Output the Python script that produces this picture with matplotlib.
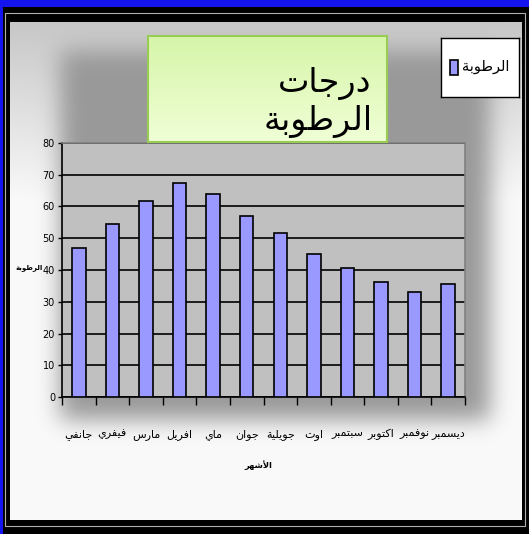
import math
import numpy as np
import matplotlib
matplotlib.use("Agg")
import matplotlib.pyplot as plt
from matplotlib.patches import Rectangle

months = ["جانفي", "فيفري", "مارس", "افريل", "ماي", "جوان",
          "جويلية", "اوت", "سبتمبر", "اكتوبر", "نوفمبر", "ديسمبر"]
humidity = [47, 54.5, 61.7, 67.3, 64, 57, 51.8, 45, 40.7, 36.2, 33.1, 35.5]
yticks = [0, 10, 20, 30, 40, 50, 60, 70, 80]
title_lines = ["درجات", "الرطوبة"]
series_name = "الرطوبة"
xlabel = "الأشهر"
ylabel = "الرطوبة"

# matplotlib has no arabic shaping, so pick presentation forms by hand
FORMS = {
    'ا': (0xFE8D, 0xFE8E, None, None), 'أ': (0xFE83, 0xFE84, None, None),
    'ب': (0xFE8F, 0xFE90, 0xFE91, 0xFE92), 'ة': (0xFE93, 0xFE94, None, None),
    'ت': (0xFE95, 0xFE96, 0xFE97, 0xFE98), 'ج': (0xFE9D, 0xFE9E, 0xFE9F, 0xFEA0),
    'د': (0xFEA9, 0xFEAA, None, None), 'ر': (0xFEAD, 0xFEAE, None, None),
    'س': (0xFEB1, 0xFEB2, 0xFEB3, 0xFEB4), 'ش': (0xFEB5, 0xFEB6, 0xFEB7, 0xFEB8),
    'ط': (0xFEC1, 0xFEC2, 0xFEC3, 0xFEC4), 'ف': (0xFED1, 0xFED2, 0xFED3, 0xFED4),
    'ك': (0xFED9, 0xFEDA, 0xFEDB, 0xFEDC), 'ل': (0xFEDD, 0xFEDE, 0xFEDF, 0xFEE0),
    'م': (0xFEE1, 0xFEE2, 0xFEE3, 0xFEE4), 'ن': (0xFEE5, 0xFEE6, 0xFEE7, 0xFEE8),
    'ه': (0xFEE9, 0xFEEA, 0xFEEB, 0xFEEC), 'و': (0xFEED, 0xFEEE, None, None),
    'ي': (0xFEF1, 0xFEF2, 0xFEF3, 0xFEF4),
}
LAM_ALEF = {'ا': (0xFEFB, 0xFEFC), 'أ': (0xFEF7, 0xFEF8)}


def shape_word(word):
    units = []
    i = 0
    while i < len(word):
        if word[i] == 'ل' and i + 1 < len(word) and word[i + 1] in LAM_ALEF:
            units.append(('LA', word[i + 1]))
            i += 2
        else:
            units.append((word[i], None))
            i += 1
    out = []
    for k, (c, extra) in enumerate(units):
        prev = units[k - 1][0] if k > 0 else None
        nxt = units[k + 1][0] if k + 1 < len(units) else None
        joins_prev = prev in FORMS and FORMS[prev][2] is not None
        if c == 'LA':
            iso, fin = LAM_ALEF[extra]
            out.append(chr(fin if joins_prev else iso))
            continue
        if c not in FORMS:
            out.append(c)
            continue
        iso, fin, ini, med = FORMS[c]
        joins_next = ini is not None and (nxt == 'LA' or nxt in FORMS)
        if joins_prev and joins_next:
            ch = med
        elif joins_prev:
            ch = fin
        elif joins_next:
            ch = ini
        else:
            ch = iso
        out.append(chr(ch))
    return ''.join(reversed(out))


def ar(text):
    return ' '.join(shape_word(w) for w in reversed(text.split()))


W, H = 529, 534
fig = plt.figure(figsize=(W / 100, H / 100), dpi=100)
fig.patch.set_facecolor('black')

# background with soft shadow behind the plot
bg = fig.add_axes([10 / W, 14 / H, 512 / W, 498 / H])
bg.set_axis_off()
xs = np.arange(10, 522) + 0.5
ys = np.arange(22, 520) + 0.5
erf = np.vectorize(math.erf)


def soft(v, a, b, s):
    return 0.5 * (erf((v - a) / s) - erf((v - b) / s))


shadow = soft(ys, 50, 420, 16)[:, None] * soft(xs, 60, 490, 16)[None, :]
top_fade = np.clip(1 - (ys - 22) / 180, 0, 1)[:, None] * 0.2
img = 0.98 - 0.38 * shadow - top_fade * (1 - shadow)
bg.imshow(np.dstack([img] * 3), extent=[0, 1, 0, 1], aspect='auto')

# frame lines
fig.patches.append(Rectangle((0, 1 - 7 / H), 1, 7 / H, transform=fig.transFigure,
                             facecolor='#1414f0', edgecolor='none'))
fig.patches.append(Rectangle((0, 0), 3 / W, 1, transform=fig.transFigure,
                             facecolor='#1414f0', edgecolor='none'))
fig.patches.append(Rectangle((5 / W, 8 / H), 520 / W, 513 / H, transform=fig.transFigure,
                             facecolor='none', edgecolor='#b0b0b0', linewidth=0.8))

# main plot
ax = fig.add_axes([62 / W, 137 / H, 403 / W, 254 / H])
ax.set_facecolor('#c0c0c0')
x = np.arange(len(months))
ax.bar(x, humidity, width=0.4, color='#9999ff', edgecolor='black', linewidth=1.2, zorder=3)
ax.set_xlim(-0.5, len(months) - 0.5)
ax.set_ylim(0, 80)
ax.set_yticks(yticks)
ax.yaxis.grid(True, color='black', linewidth=1.2, zorder=1)
ax.set_axisbelow(True)
ax.set_xticks(x)
ax.set_xticklabels([ar(m) for m in months], fontsize=8, family=['DejaVu Sans Condensed'])
ax.set_xticks(np.arange(len(months) + 1) - 0.5, minor=True)
ax.tick_params(axis='x', which='major', length=0, pad=23)
ax.tick_params(axis='x', which='minor', length=6, width=1, color='black')
ax.tick_params(axis='y', length=3, width=1, pad=2, labelsize=7)
for lab in ax.get_yticklabels():
    lab.set_family(['Liberation Sans Narrow', 'DejaVu Sans Condensed'])
for s in ['left', 'bottom']:
    ax.spines[s].set_color('black')
    ax.spines[s].set_linewidth(1.2)
for s in ['top', 'right']:
    ax.spines[s].set_color('#808080')
    ax.spines[s].set_linewidth(1.2)

fig.text(43 / W, 1 - 268 / H, ar(ylabel), fontsize=5, fontweight='bold',
         ha='right', va='center', family=['DejaVu Sans Condensed'])
fig.text(258 / W, 1 - 465 / H, ar(xlabel), fontsize=6, fontweight='bold',
         ha='center', va='center', family=['DejaVu Sans Condensed'])

# title box
tb = fig.add_axes([148 / W, 1 - 142 / H, 239 / W, 106 / H], zorder=5)
grad = np.linspace(0, 1, 100)[:, None]
top_c = np.array([0.84, 0.96, 0.66])
bot_c = np.array([0.94, 1.0, 0.84])
tb.imshow(top_c * (1 - grad[..., None]) + bot_c * grad[..., None],
          extent=[0, 1, 0, 1], aspect='auto')
tb.set_xticks([])
tb.set_yticks([])
for s in tb.spines.values():
    s.set_color('#99cc55')
    s.set_linewidth(1.5)
tb.text(0.935, 0.47, ar(title_lines[0]), fontsize=24, ha='right', va='baseline',
        transform=tb.transAxes)
tb.text(0.94, 0.11, ar(title_lines[1]), fontsize=24, ha='right', va='baseline',
        transform=tb.transAxes)

# legend box
lg = fig.add_axes([441 / W, 1 - 97 / H, 78 / W, 59 / H], zorder=5)
lg.set_facecolor('white')
lg.set_xticks([])
lg.set_yticks([])
lg.set_xlim(0, 78)
lg.set_ylim(0, 59)
for s in lg.spines.values():
    s.set_color('black')
    s.set_linewidth(1)
lg.add_patch(Rectangle((9, 22), 8, 15, facecolor='#9999ff', edgecolor='black', linewidth=1.2))
lg.text(21, 30, ar(series_name), fontsize=10.5, ha='left', va='center',
        family=['DejaVu Sans Condensed'])

fig.savefig('out.png', dpi=100, facecolor=fig.get_facecolor())
